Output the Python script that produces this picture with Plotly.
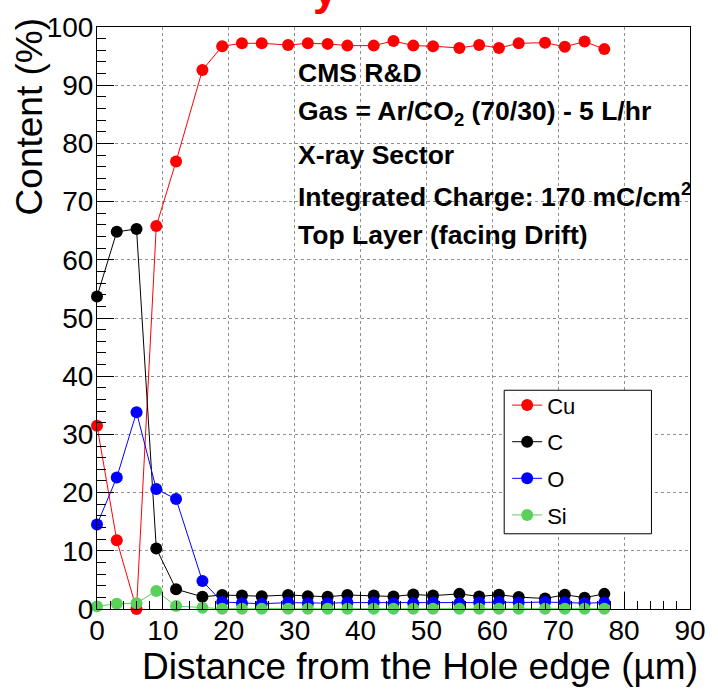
import plotly.graph_objects as go

# ---- data ----
distance = [0, 3, 6, 9, 12, 16, 19, 22, 25, 29, 32, 35, 38, 42, 45, 48, 51, 55, 58, 61, 64, 68, 71, 74, 77]
cu = [31.5, 11.8, 0.0, 65.8, 76.9, 92.6, 96.7, 97.2, 97.2, 96.9, 97.2, 97.1, 96.8, 96.8, 97.6, 96.8,
      96.7, 96.4, 96.9, 96.4, 97.2, 97.3, 96.6, 97.5, 96.2]
c = [53.7, 64.8, 65.3, 10.4, 3.4, 2.1, 2.4, 2.3, 2.2, 2.4, 2.2, 2.1, 2.4, 2.3, 2.15, 2.5,
     2.3, 2.6, 2.15, 2.45, 2.05, 1.8, 2.45, 1.95, 2.6]
o = [14.5, 22.6, 33.8, 20.6, 18.9, 4.8, 1.2, 1.0, 0.9, 1.1, 1.0, 1.0, 1.1, 1.1, 1.0, 1.0,
     1.1, 1.0, 1.1, 1.2, 1.1, 1.2, 1.15, 1.0, 1.1]
si = [0.45, 0.9, 1.0, 3.1, 0.5, 0.2, 0.05, 0.05, 0.05, 0.05, 0.05, 0.05, 0.05, 0.05, 0.05, 0.05,
      0.05, 0.05, 0.05, 0.05, 0.05, 0.05, 0.05, 0.05, 0.05]

series = [("Cu", cu, "#ff0000"), ("C", c, "#000000"), ("O", o, "#0000ff"), ("Si", si, "#5ad25a")]

info_lines = [
    "CMS R&D",
    "Gas = Ar/CO<sub>2</sub> (70/30) - 5 L/hr",
    "X-ray Sector",
    "Integrated Charge: 170 mC/cm<sup>2</sup>",
    "Top Layer (facing Drift)",
]

FONT = "Liberation Sans, Arial, Helvetica, sans-serif"

fig = go.Figure()
for name, vals, col in series:
    fig.add_trace(go.Scatter(
        x=distance, y=vals, name=name, mode="lines+markers",
        line=dict(color=col, width=1),
        marker=dict(color=col, size=12, line=dict(width=0)),
        cliponaxis=False, legendgroup=name,
    ))

W, H = 718, 691
ml, mr, mt, mb = 97, 21, 21, 82
pw, ph = W - ml - mr, H - mt - mb

def px(xp):
    return (xp - ml) / pw

def py(yp):
    return (H - mb - yp) / ph

annotations = []
ycent = [67, 108, 150, 191, 231]
for t, yc in zip(info_lines, ycent):
    annotations.append(dict(text="<b>" + t + "</b>", xref="paper", yref="paper",
                            x=px(298), y=py(yc), xanchor="left", yanchor="middle",
                            showarrow=False, font=dict(family=FONT, size=26.5, color="black")))

annotations.append(dict(text="Content (%)", textangle=-90, xref="paper", yref="paper",
                        x=px(29), y=py(10), xanchor="center", yanchor="top", showarrow=False,
                        font=dict(family=FONT, size=37, color="black")))
annotations.append(dict(text="Distance from the Hole edge (\u00b5m)", xref="paper", yref="paper",
                        x=px(707), y=py(667), xanchor="right", yanchor="middle", showarrow=False,
                        font=dict(family=FONT, size=37, color="black")))
annotations.append(dict(text="<b>y</b>", xref="paper", yref="paper",
                        x=px(328), y=py(10), xanchor="center", yanchor="bottom", showarrow=False,
                        font=dict(family=FONT, size=44, color="#ff0000")))

axis_common = dict(
    showline=True, linecolor="black", linewidth=1, mirror=True,
    ticks="inside", ticklen=17, tickwidth=1, tickcolor="black",
    showgrid=True, gridcolor="#909090", gridwidth=1, griddash="dot",
    zeroline=False,
    tickfont=dict(family=FONT, size=28, color="black"),
)

# legend frame (opaque white box with black border)
shapes = [dict(type="rect", xref="paper", yref="paper", layer="above",
               x0=px(509), x1=px(658), y0=py(533), y1=py(388),
               fillcolor="white", line=dict(color="black", width=1))]

fig.update_layout(
    width=W, height=H,
    margin=dict(l=ml, r=mr, t=mt, b=mb),
    paper_bgcolor="white", plot_bgcolor="white",
    showlegend=True,
    legend=dict(x=px(512), y=py(382), xanchor="left", yanchor="top",
                bgcolor="rgba(0,0,0,0)", borderwidth=0,
                font=dict(family=FONT, size=22, color="black"),
                tracegroupgap=5, itemwidth=30),
    annotations=annotations,
    shapes=shapes,
    xaxis=dict(range=[0, 90], dtick=10, tick0=0, ticklabelstandoff=-4,
               minor=dict(dtick=2, ticklen=8, ticks="inside", tickcolor="black", showgrid=False),
               **axis_common),
    yaxis=dict(range=[0, 100], dtick=10, tick0=0, ticklabelstandoff=-3,
               minor=dict(dtick=2, ticklen=9, ticks="inside", tickcolor="black", showgrid=False),
               **axis_common),
)

fig.write_html("out.html", config={"displayModeBar": False},
               post_script="document.body.style.margin='0';document.body.style.overflow='hidden';")
